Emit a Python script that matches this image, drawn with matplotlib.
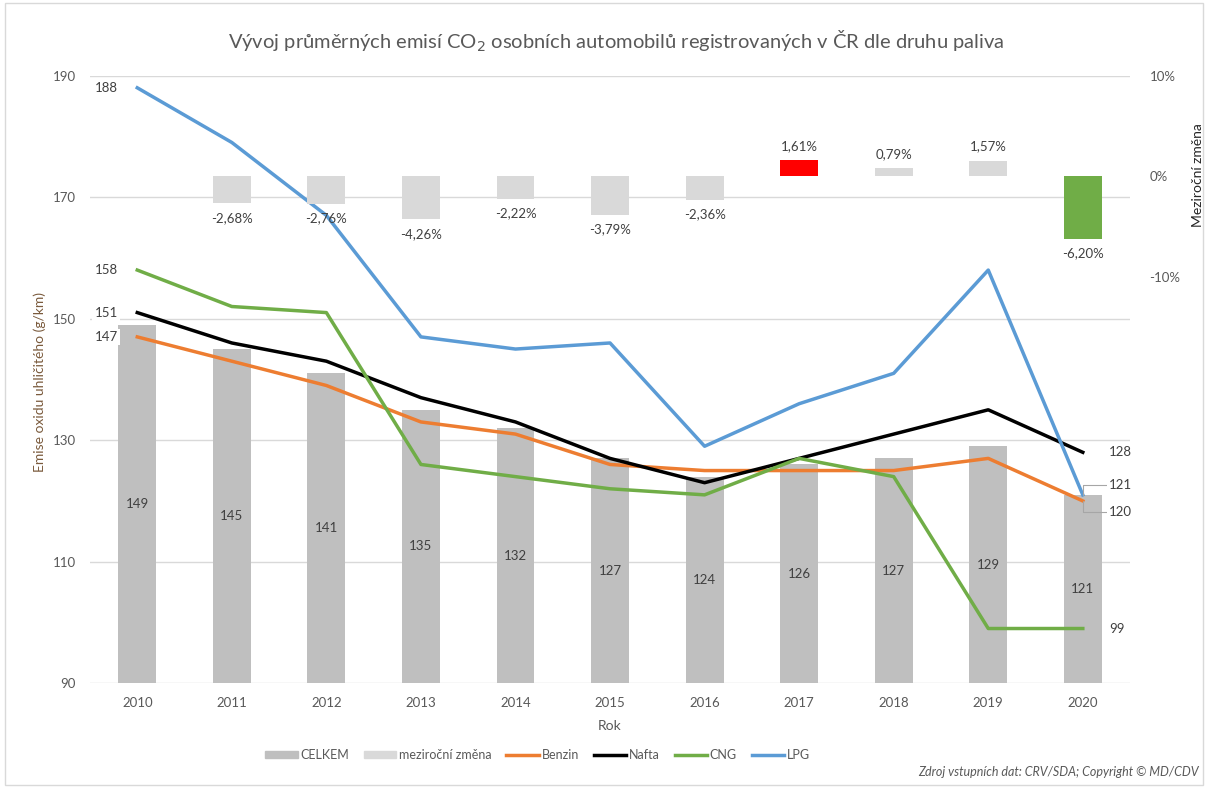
import matplotlib.pyplot as plt
from matplotlib.patches import Patch, Rectangle
from matplotlib.lines import Line2D

plt.rcParams['font.family'] = ['Lato', 'DejaVu Sans']

roky = ['2010', '2011', '2012', '2013', '2014', '2015', '2016', '2017', '2018', '2019', '2020']
celkem = [149, 145, 141, 135, 132, 127, 124, 126, 127, 129, 121]
zmena = [None, -2.68, -2.76, -4.26, -2.22, -3.79, -2.36, 1.61, 0.79, 1.57, -6.20]
benzin = [147, 143, 139, 133, 131, 126, 125, 125, 125, 127, 120]
nafta = [151, 146, 143, 137, 133, 127, 123, 127, 131, 135, 128]
cng = [158, 152, 151, 126, 124, 122, 121, 127, 124, 99, 99]
lpg = [188, 179, 167, 147, 145, 146, 129, 136, 141, 158, 121]

txt = '#595959'
x = list(range(len(roky)))

fig = plt.figure(figsize=(12.08, 7.88), dpi=100)
fig.patches.append(Rectangle((0.004, 0.004), 0.992, 0.992, transform=fig.transFigure,
                             fill=False, edgecolor='#d9d9d9', lw=1))
ax = fig.add_axes([0.0745, 0.133, 0.861, 0.771])
ax2 = ax.twinx()

# sloupce CELKEM
ax.bar(x, celkem, width=0.4, color='#bfbfbf', zorder=2)
for i, v in enumerate(celkem):
    ax.text(i, (90 + v) / 2, str(v), ha='center', va='center', fontsize=9.5, color='#404040', zorder=3)

# mezirocni zmena
for i, v in enumerate(zmena):
    if v is None:
        continue
    c = '#d9d9d9'
    if i == 7:
        c = '#ff0000'
    if i == 10:
        c = '#70ad47'
    ax2.bar(i, v, width=0.4, color=c, zorder=2)
    lab = ('%.2f%%' % v).replace('.', ',')
    if v < 0:
        ax2.annotate(lab, (i, v), xytext=(0, -6), textcoords='offset points', ha='center', va='top',
                     fontsize=9.5, color='#404040')
    else:
        ax2.annotate(lab, (i, v), xytext=(0, 6), textcoords='offset points', ha='center', va='bottom',
                     fontsize=9.5, color='#404040')

# linie
ax.plot(x, benzin, color='#ed7d31', lw=2.5, zorder=4)
ax.plot(x, nafta, color='#000000', lw=2.5, zorder=4)
ax.plot(x, cng, color='#70ad47', lw=2.5, zorder=4)
ax.plot(x, lpg, color='#5b9bd5', lw=2.5, zorder=4)

box = dict(facecolor='white', edgecolor='none', pad=1.5)
leader = dict(arrowstyle='-', color='#a6a6a6', lw=0.8, shrinkA=0, shrinkB=0,
              connectionstyle='angle,angleA=0,angleB=90,rad=0')
for ser in [lpg, cng, nafta, benzin]:
    ax.annotate(str(ser[0]), (0, ser[0]), xytext=(-14, 0), textcoords='offset points',
                ha='right', va='center', fontsize=9.5, color='#404040', bbox=box, zorder=5)
ax.annotate(str(nafta[-1]), (10, nafta[-1]), xytext=(19, 0), textcoords='offset points',
            ha='left', va='center', fontsize=9.5, color='#404040', bbox=box, zorder=5)
ax.annotate(str(lpg[-1]), (10, lpg[-1]), xytext=(19, 7), textcoords='offset points',
            ha='left', va='center', fontsize=9.5, color='#404040', bbox=box, zorder=5,
            arrowprops=leader)
ax.annotate(str(benzin[-1]), (10, benzin[-1]), xytext=(19, -8), textcoords='offset points',
            ha='left', va='center', fontsize=9.5, color='#404040', bbox=box, zorder=5,
            arrowprops=leader)
ax.annotate(str(cng[-1]), (10, cng[-1]), xytext=(19, 0), textcoords='offset points',
            ha='left', va='center', fontsize=9.5, color='#404040', bbox=box, zorder=5)

ax.set_xlim(-0.5, 10.5)
ax.set_ylim(90, 190)
ax.set_yticks([90, 110, 130, 150, 170, 190])
ax.set_xticks(x)
ax.set_xticklabels(roky)
ax.grid(axis='y', color='#d9d9d9', lw=1, zorder=0)
ax.set_axisbelow(True)
for s in ax.spines.values():
    s.set_visible(False)
for s in ax2.spines.values():
    s.set_visible(False)
ax.tick_params(length=0, labelsize=9.5, colors=txt, pad=10)
ax.set_xlabel('Rok', fontsize=10, color=txt, labelpad=8)
ax.set_ylabel('Emise oxidu uhličitého (g/km)', fontsize=10, color='#7a5a3c')
ax.yaxis.set_label_coords(-0.042, 0.496)

ax2.set_ylim(-50.3, 9.7)
ax2.set_yticks([-10, 0, 10])
ax2.set_yticklabels(['-10%', '0%', '10%'])
ax2.tick_params(length=0, labelsize=9.5, colors=txt, pad=14)
ax2.set_ylabel('Meziroční změna', fontsize=10, color='#262626')
ax2.yaxis.set_label_coords(1.06, 0.837)

fig.text(0.51, 0.948, 'Vývoj průměrných emisí CO$_2$ osobních automobilů registrovaných v ČR dle druhu paliva',
         ha='center', va='center', fontsize=14.5, color=txt)

handles = [Patch(color='#bfbfbf'), Patch(color='#d9d9d9'),
           Line2D([], [], color='#ed7d31', lw=2.5), Line2D([], [], color='#000000', lw=2.5),
           Line2D([], [], color='#70ad47', lw=2.5), Line2D([], [], color='#5b9bd5', lw=2.5)]
fig.legend(handles, ['CELKEM', 'meziroční změna', 'Benzin', 'Nafta', 'CNG', 'LPG'],
           loc='center', bbox_to_anchor=(0.445, 0.042), ncol=6, frameon=False, fontsize=9,
           labelcolor=txt, handlelength=2.6, handleheight=0.6, columnspacing=1.2, handletextpad=0.2)
fig.text(0.992, 0.013, 'Zdroj vstupních dat: CRV/SDA; Copyright © MD/CDV', ha='right', va='bottom',
         fontsize=9, style='italic', color=txt)

fig.savefig('out.png', dpi=100)
